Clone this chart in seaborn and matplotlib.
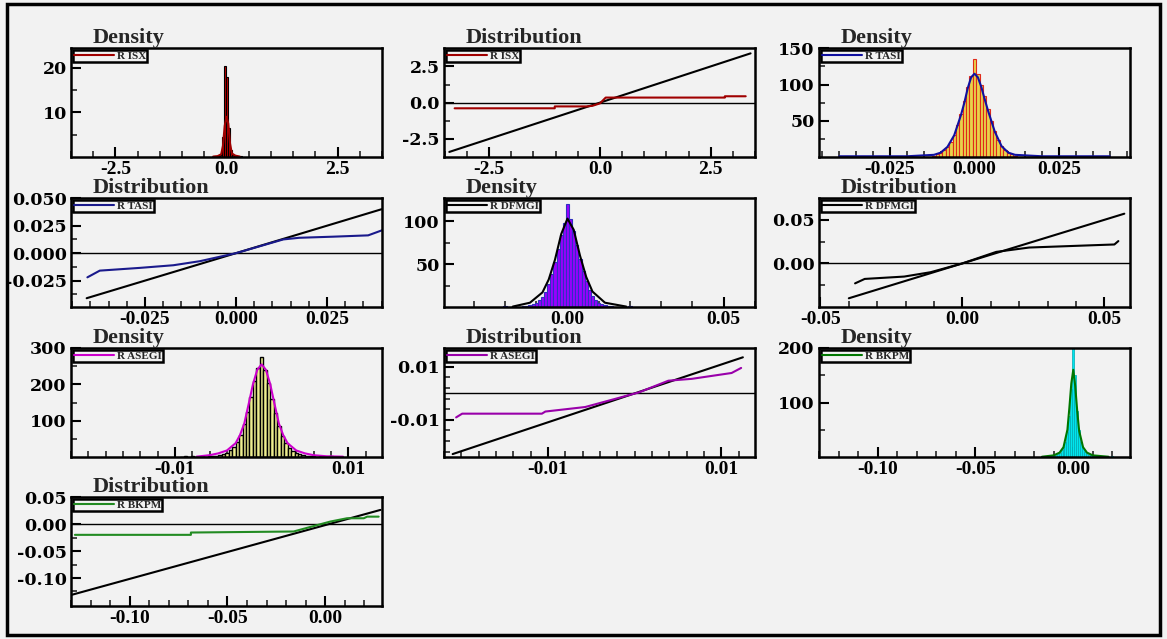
import matplotlib
matplotlib.use("Agg")
import matplotlib.pyplot as plt
import seaborn as sns
from matplotlib.ticker import MultipleLocator, FixedLocator, FormatStrFormatter
from matplotlib.patches import Rectangle

# ---- data ----
# R ISX
isx_bins = [-0.2625, -0.1725, -0.1275, -0.0825, -0.0375, 0.0075, 0.0525, 0.0975, 0.1425, 0.1875, 0.2325, 0.3225]
isx_heights = [0.3, 0.2, 0.4, 4.5, 20.3, 17.9, 6.5, 1.5, 0.5, 0.2, 0.3, 0.3]
isx_dens_x = [-0.3, -0.2, -0.12, -0.08, -0.04, 0.0, 0.04, 0.08, 0.12, 0.2, 0.3]
isx_dens_y = [0.1, 0.2, 0.6, 2.5, 7.0, 9.0, 7.5, 3.0, 0.8, 0.3, 0.1]
isx_qq_x = [-3.28, -1.02, -1.02, -0.3, -0.17, 0.0, 0.13, 2.82, 2.82, 3.29]
isx_qq_y = [-0.39, -0.39, -0.26, -0.26, -0.22, -0.05, 0.35, 0.35, 0.44, 0.44]
isx_ref = [-3.4, 3.4]

# R TASI
tasi_bins = [-0.038, -0.033, -0.028, -0.02,
             -0.012, -0.011, -0.010, -0.009, -0.008, -0.007, -0.006, -0.005, -0.004, -0.003, -0.002, -0.001,
             0.0, 0.001, 0.002, 0.003, 0.004, 0.005, 0.006, 0.007, 0.008, 0.009, 0.010, 0.011, 0.012,
             0.024, 0.030, 0.034, 0.038]
tasi_heights = [1.5, 1, 1.5, 1,
                2, 4, 6, 9, 14, 21, 31, 44, 60, 78, 96, 112,
                135, 114, 100, 84, 66, 50, 36, 24, 15, 9, 6, 4, 2,
                1, 1.5, 1, 1.5]
tasi_dens_x = [-0.040, -0.02, -0.012, -0.01, -0.008, -0.006, -0.004, -0.003, -0.002, -0.001, 0.0,
               0.001, 0.002, 0.003, 0.004, 0.006, 0.008, 0.01, 0.012, 0.02, 0.04]
tasi_dens_y = [1, 1, 3, 6, 14, 30, 58, 75, 95, 110, 115, 110, 97, 80, 64, 35, 15, 6, 3, 1, 1]
tasi_qq_x = [-0.0408, -0.0374, -0.0264, -0.0172, -0.0099, 0.0, 0.013, 0.0174, 0.0267, 0.0363, 0.0401]
tasi_qq_y = [-0.022, -0.0159, -0.0134, -0.011, -0.0073, 0.0, 0.0125, 0.014, 0.015, 0.0162, 0.0208]
tasi_ref = [-0.041, 0.040]

# R DFMGI
dfmgi_bins = [-0.020, -0.017,
              -0.014, -0.013, -0.012, -0.011, -0.010, -0.009, -0.008, -0.007, -0.006, -0.005, -0.004, -0.003,
              -0.002, -0.001, 0.0, 0.001, 0.002, 0.003, 0.004, 0.005, 0.006, 0.007, 0.008, 0.009, 0.010,
              0.011, 0.012, 0.013, 0.014, 0.020]
dfmgi_heights = [1, 1,
                 1, 1, 2, 3, 5, 8, 12, 18, 27, 38, 52, 68,
                 84, 98, 120, 102, 88, 72, 56, 42, 30, 20, 13, 8, 5,
                 3, 2, 1, 1, 1.5]
dfmgi_dens_x = [-0.0175, -0.012, -0.008, -0.006, -0.004, -0.002, 0.0, 0.002, 0.004, 0.006, 0.008, 0.012, 0.0188]
dfmgi_dens_y = [0.5, 5, 17, 32, 55, 85, 103, 90, 60, 35, 18, 5, 0.5]
dfmgi_qq_x = [-0.0378, -0.0344, -0.0205, -0.0112, 0.0, 0.0119, 0.0235, 0.0465, 0.0535, 0.0549]
dfmgi_qq_y = [-0.0229, -0.0178, -0.0151, -0.0101, 0.0, 0.0132, 0.0182, 0.0209, 0.0217, 0.0256]
dfmgi_ref = [-0.040, 0.057]

# R ASEGI
asegi_bins = [-0.009, -0.008, -0.007,
              -0.006, -0.0056, -0.0052, -0.0048, -0.0044, -0.004, -0.0036, -0.0032, -0.0028, -0.0024,
              -0.002, -0.0016, -0.0012, -0.0008, -0.0004, 0.0, 0.0004, 0.0008, 0.0012, 0.0016,
              0.002, 0.0024, 0.0028, 0.0032, 0.0036, 0.004, 0.0044, 0.0048, 0.0052, 0.0056, 0.006,
              0.007, 0.008, 0.009]
asegi_heights = [1.5, 2, 2,
                 2, 3, 4, 6, 8, 12, 18, 27, 40, 60,
                 90, 125, 165, 210, 245, 275, 240, 205, 160, 120,
                 86, 58, 38, 26, 17, 11, 8, 6, 4, 3, 2,
                 2, 1.5, 1]
asegi_dens_x = [-0.0075, -0.006, -0.005, -0.004, -0.003, -0.0025, -0.002, -0.0015, -0.001, -0.0005, 0.0,
                0.0005, 0.001, 0.0015, 0.002, 0.0025, 0.003, 0.004, 0.005, 0.006, 0.0075, 0.0094]
asegi_dens_y = [1, 5, 10, 18, 38, 60, 92, 145, 200, 240, 255, 240, 200, 145, 92, 60, 38, 18, 10, 5, 2, 1]
asegi_qq_x = [-0.0206, -0.0199, -0.0107, -0.0103, -0.0057, 0.0005, 0.0039, 0.0066, 0.0112, 0.0123]
asegi_qq_y = [-0.0091, -0.0077, -0.0077, -0.0069, -0.0052, 0.0003, 0.0047, 0.0054, 0.0076, 0.0095]
asegi_ref_x = [-0.021, 0.0125]
asegi_ref_y = [-0.0229, 0.0135]

# R BKPM
bkpm_bins = [-0.015,
             -0.012, -0.011, -0.010, -0.009, -0.008, -0.007, -0.006, -0.005, -0.004, -0.003, -0.002, -0.001,
             0.0, 0.001, 0.002, 0.003, 0.004, 0.005, 0.006, 0.007, 0.008, 0.009, 0.010, 0.011, 0.012,
             0.020]
bkpm_heights = [1,
                1, 1, 2, 3, 5, 8, 12, 18, 28, 45, 75, 125,
                200, 150, 85, 50, 28, 16, 10, 6, 4, 3, 2, 1, 1,
                1]
bkpm_dens_x = [-0.016, -0.01, -0.007, -0.005, -0.003, -0.002, -0.001, 0.0, 0.001, 0.002, 0.003, 0.005, 0.007, 0.01, 0.018]
bkpm_dens_y = [0.5, 3, 8, 18, 50, 90, 135, 160, 130, 85, 48, 18, 8, 3, 0.5]
bkpm_qq_x = [-0.128, -0.0687, -0.0687, -0.0162, 0.0026, 0.0111, 0.0197, 0.0214, 0.0273]
bkpm_qq_y = [-0.0198, -0.0198, -0.0155, -0.0136, 0.0049, 0.011, 0.011, 0.014, 0.014]
bkpm_ref_x = [-0.1294, 0.0282]
bkpm_ref_y = [-0.131, 0.0265]

# ---- style ----
BG = '#f2f2f2'
sns.set_theme(style='ticks')
plt.rcParams['font.family'] = ['Liberation Serif', 'DejaVu Serif']
plt.rcParams['font.weight'] = 'bold'
plt.rcParams['axes.linewidth'] = 1.6
plt.rcParams['axes.edgecolor'] = 'black'

W, H = 1167, 639
fig = plt.figure(figsize=(W / 100, H / 100), dpi=100, facecolor=BG)
fig.patches.append(Rectangle((7 / W, 4 / H), 1153 / W, 631 / H, transform=fig.transFigure,
                             fill=False, lw=2.5, ec='black'))

col_left = [71, 444, 819]
row_top = [48, 198, 348, 497]


def make_ax(r, c):
    l, t = col_left[c], row_top[r]
    ax = fig.add_axes([l / W, 1 - (t + 109) / H, 311 / W, 109 / H])
    ax.set_facecolor(BG)
    return ax


def loc(v):
    return FixedLocator(v) if isinstance(v, list) else MultipleLocator(v)


def finish(ax, title, xlim, ylim, xmaj, xmin, ymaj, ymin, xfmt, yfmt):
    ax.set_xlim(*xlim)
    ax.set_ylim(*ylim)
    ax.xaxis.set_major_locator(loc(xmaj))
    ax.xaxis.set_minor_locator(loc(xmin))
    ax.yaxis.set_major_locator(loc(ymaj))
    ax.yaxis.set_minor_locator(loc(ymin))
    ax.xaxis.set_major_formatter(FormatStrFormatter(xfmt))
    ax.yaxis.set_major_formatter(FormatStrFormatter(yfmt))
    ax.tick_params(which='major', direction='in', length=7, width=1.5, pad=3,
                   top=False, right=False, colors='black')
    ax.tick_params(which='minor', direction='in', length=4, width=1.2, top=False, right=False)
    ax.xaxis.set_tick_params(labelsize=14, labelfontfamily='Liberation Serif')
    ax.yaxis.set_tick_params(labelsize=12.5, labelfontfamily='DejaVu Serif')
    ax.set_xlabel('')
    ax.set_ylabel('')
    for s in ax.spines.values():
        s.set_visible(True)
        s.set_linewidth(1.8)
    ax.text(0.07, 1.0, title, transform=ax.transAxes, fontsize=16, fontweight='bold',
            va='bottom', ha='left')
    leg = ax.legend(loc='upper left', frameon=True, fancybox=False, edgecolor='black',
                    facecolor=BG, framealpha=1, fontsize=8, handlelength=3.6,
                    handletextpad=0.3, borderpad=0.1, borderaxespad=0.15)
    leg.get_frame().set_linewidth(1.8)


def density(ax, bins, heights, binwidth, binrange, fill, edge, lw, dx, dy, lcolor, name):
    sns.histplot(x=bins, weights=heights, binwidth=binwidth, binrange=binrange, ax=ax,
                 color=fill, edgecolor=edge, linewidth=lw, alpha=1)
    sns.lineplot(x=dx, y=dy, ax=ax, color=lcolor, lw=1.5, estimator=None, sort=False, label=name)


def distribution(ax, rx, ry, qx, qy, lcolor, name):
    sns.lineplot(x=rx, y=ry, ax=ax, color='black', lw=1.5, estimator=None, sort=False)
    ax.axhline(0, color='black', lw=1)
    sns.lineplot(x=qx, y=qy, ax=ax, color=lcolor, lw=1.5, estimator=None, sort=False, label=name)


# row 1
ax = make_ax(0, 0)
density(ax, isx_bins, isx_heights, 0.045, (-0.285, 0.345), '#c00000', 'black', 0.8,
        isx_dens_x, isx_dens_y, '#a00000', 'R ISX')
finish(ax, 'Density', (-3.5, 3.5), (0, 24.4), 2.5, 0.5, [10, 20], [5, 15], '%.1f', '%.0f')

ax = make_ax(0, 1)
distribution(ax, isx_ref, isx_ref, isx_qq_x, isx_qq_y, '#a00000', 'R ISX')
finish(ax, 'Distribution', (-3.52, 3.5), (-3.75, 3.77), 2.5, 0.5,
       [-2.5, 0.0, 2.5], [-1.25, 1.25], '%.1f', '%.1f')

ax = make_ax(0, 2)
density(ax, tasi_bins, tasi_heights, 0.001, (-0.0405, 0.0405), '#e8d34a', '#e02a1a', 0.8,
        tasi_dens_x, tasi_dens_y, '#1010a0', 'R TASI')
finish(ax, 'Density', (-0.046, 0.046), (0, 150.5), 0.025, 0.005, [50, 100, 150], [25, 75, 125],
       '%.3f', '%.0f')

# row 2
ax = make_ax(1, 0)
distribution(ax, tasi_ref, tasi_ref, tasi_qq_x, tasi_qq_y, '#1a1a8c', 'R TASI')
finish(ax, 'Distribution', (-0.0453, 0.0401), (-0.049, 0.0502), 0.025, 0.005,
       [-0.025, 0.0, 0.025, 0.05], [-0.0375, -0.0125, 0.0125, 0.0375], '%.3f', '%.3f')

ax = make_ax(1, 1)
density(ax, dfmgi_bins, dfmgi_heights, 0.001, (-0.0205, 0.0205), '#9a00ff', '#3030c0', 0.8,
        dfmgi_dens_x, dfmgi_dens_y, 'black', 'R DFMGI')
finish(ax, 'Density', (-0.0395, 0.060), (0, 127), 0.05, 0.01, [50, 100], [25, 75, 125], '%.2f', '%.0f')

ax = make_ax(1, 2)
distribution(ax, dfmgi_ref, dfmgi_ref, dfmgi_qq_x, dfmgi_qq_y, 'black', 'R DFMGI')
finish(ax, 'Distribution', (-0.0505, 0.059), (-0.05, 0.075), 0.05, 0.01,
       [0.0, 0.05], [-0.025, 0.025], '%.2f', '%.2f')

# row 3
ax = make_ax(2, 0)
density(ax, asegi_bins, asegi_heights, 0.0004, (-0.0094, 0.0094), '#eeee90', 'black', 1.0,
        asegi_dens_x, asegi_dens_y, '#cc00cc', 'R ASEGI')
finish(ax, 'Density', (-0.022, 0.0139), (0, 300), [-0.01, 0.01], 0.002, [100, 200, 300],
       [50, 150, 250], '%.2f', '%.0f')

ax = make_ax(2, 1)
distribution(ax, asegi_ref_x, asegi_ref_y, asegi_qq_x, asegi_qq_y, '#9900aa', 'R ASEGI')
finish(ax, 'Distribution', (-0.022, 0.0139), (-0.024, 0.017), [-0.01, 0.01], 0.002,
       [-0.01, 0.01], [-0.022, -0.018, -0.014, -0.006, -0.002, 0.002, 0.006, 0.014], '%.2f', '%.2f')

ax = make_ax(2, 2)
density(ax, bkpm_bins, bkpm_heights, 0.001, (-0.0155, 0.0205), '#00e5ee', '#00a8b0', 0.5,
        bkpm_dens_x, bkpm_dens_y, '#007700', 'R BKPM')
finish(ax, 'Density', (-0.130, 0.029), (0, 200), 0.05, 0.01, [100, 200], [50, 150], '%.2f', '%.0f')

# row 4
ax = make_ax(3, 0)
distribution(ax, bkpm_ref_x, bkpm_ref_y, bkpm_qq_x, bkpm_qq_y, '#228b22', 'R BKPM')
finish(ax, 'Distribution', (-0.130, 0.029), (-0.152, 0.0505), 0.05, 0.01,
       [-0.10, -0.05, 0.0, 0.05], [-0.125, -0.075, -0.025, 0.025], '%.2f', '%.2f')

fig.savefig('out.png', dpi=100, facecolor=BG)
